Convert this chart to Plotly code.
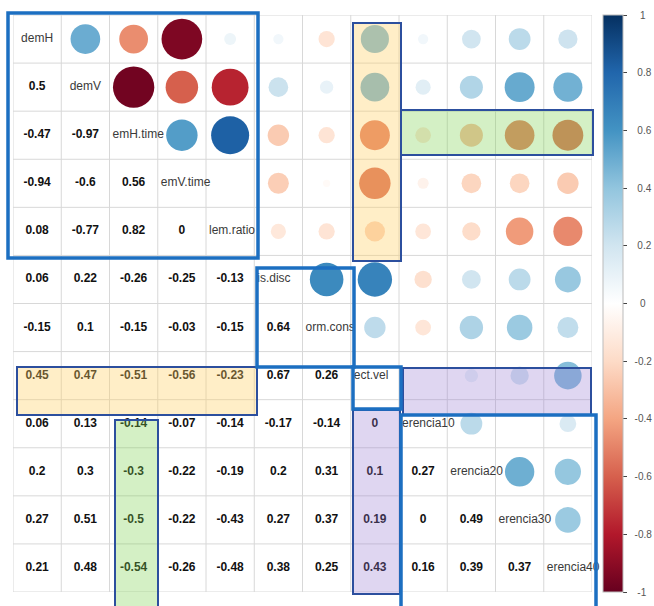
import math
import plotly.graph_objects as go

# ---------------- data ----------------
diag_labels = ["demH", "demV", "emH.time", "emV.time", "lem.ratio", "is.disc",
               "orm.cons", "ect.vel", "erencia10", "erencia20", "erencia30", "erencia40"]

lower_rows = [
    [],
    [0.5],
    [-0.47, -0.97],
    [-0.94, -0.6, 0.56],
    [0.08, -0.77, 0.82, 0],
    [0.06, 0.22, -0.26, -0.25, -0.13],
    [-0.15, 0.1, -0.15, -0.03, -0.15, 0.64],
    [0.45, 0.47, -0.51, -0.56, -0.23, 0.67, 0.26],
    [0.06, 0.13, -0.14, -0.07, -0.14, -0.17, -0.14, 0],
    [0.2, 0.3, -0.3, -0.22, -0.19, 0.2, 0.31, 0.1, 0.27],
    [0.27, 0.51, -0.5, -0.22, -0.43, 0.27, 0.37, 0.19, 0, 0.49],
    [0.21, 0.48, -0.54, -0.26, -0.48, 0.38, 0.25, 0.43, 0.16, 0.39, 0.37],
]

cbar_ticks = [1, 0.8, 0.6, 0.4, 0.2, 0, -0.2, -0.4, -0.6, -0.8, -1]
cbar_ticktext = ["1", "0.8", "0.6", "0.4", "0.2", "0", "-0.2", "-0.4", "-0.6", "-0.8", "-1"]

rdbu = ["#67001F", "#B2182B", "#D6604D", "#F4A582", "#FDDBC7", "#FFFFFF",
        "#D1E5F0", "#92C5DE", "#4393C3", "#2166AC", "#053061"]

# ---------------- layout geometry ----------------
W, H = 654, 606
L, R, T, B = 13, 62, 15, 14
PW, PH = W - L - R, H - T - B
n = len(diag_labels)

# full symmetric matrix
M = [[1.0] * n for _ in range(n)]
for i, row in enumerate(lower_rows):
    for j, v in enumerate(row):
        M[i][j] = v
        M[j][i] = v

colorscale = [[k / (len(rdbu) - 1), c] for k, c in enumerate(rdbu)]
cell_px = PW / n

# centre the colour-bar labels roughly like R does (pad with no-break spaces)
pad_by_len = {1: 4, 2: 3, 3: 3, 4: 2}
cbar_labels = ["\u00a0" * pad_by_len[len(t)] + t for t in cbar_ticktext]

fig = go.Figure()

# numbers (lower triangle)
nx, ny, nt = [], [], []
for i in range(n):
    for j in range(i):
        nx.append(j + 1)
        ny.append(i + 1)
        nt.append(f"{M[i][j]:g}")
fig.add_trace(go.Scatter(
    x=nx, y=ny, text=nt, mode="text", hoverinfo="skip", showlegend=False,
    textfont=dict(family="Liberation Sans", size=12, color="#111111", weight="bold"),
))

# circles (upper triangle)
cx, cy, cc, cs = [], [], [], []
for i in range(n):
    for j in range(i + 1, n):
        v = M[i][j]
        cx.append(j + 1)
        cy.append(i + 1)
        cc.append(v)
        cs.append(0.87 * math.sqrt(abs(v)) * cell_px)
fig.add_trace(go.Scatter(
    x=cx, y=cy, mode="markers", hoverinfo="skip", showlegend=False,
    marker=dict(
        color=cc, colorscale=colorscale, cmin=-1, cmax=1, size=cs,
        line=dict(width=0), opacity=1,
        colorbar=dict(
            xref="paper", x=(603 - L) / PW, xanchor="left", xpad=0,
            yref="paper", y=0, yanchor="bottom", ypad=0,
            lenmode="fraction", len=1, thickness=20,
            outlinecolor="#BBBBBB", outlinewidth=1,
            tickvals=cbar_ticks, ticktext=cbar_labels,
            ticks="outside", ticklen=4, tickcolor="#444444",
            tickfont=dict(family="Liberation Sans", size=10, color="#555555"),
        ),
    ),
))

# diagonal labels
lx, ly, lpos = [], [], []
for k, lab in enumerate(diag_labels):
    if len(lab) <= 4:
        lx.append(k + 1)
        lpos.append("middle center")
    else:
        lx.append(k + 0.5 + 3 / cell_px)
        lpos.append("middle right")
    ly.append(k + 1)
fig.add_trace(go.Scatter(
    x=lx, y=ly, text=diag_labels, mode="text", textposition=lpos,
    hoverinfo="skip", showlegend=False, cliponaxis=False,
    textfont=dict(family="Liberation Sans", size=12, color="#3a3a3a"),
))

# grid
for k in range(n + 1):
    fig.add_shape(type="line", xref="x", yref="y", x0=k + 0.5, x1=k + 0.5,
                  y0=0.5, y1=n + 0.5, line=dict(color="#D8D8D8", width=1), layer="below")
    fig.add_shape(type="line", xref="x", yref="y", y0=k + 0.5, y1=k + 0.5,
                  x0=0.5, x1=n + 0.5, line=dict(color="#D8D8D8", width=1), layer="below")


def px_rect(x0, y0, x1, y1):
    return dict(xref="paper", yref="paper",
                x0=(x0 - L) / PW, x1=(x1 - L) / PW,
                y0=(H - B - y0) / PH, y1=(H - B - y1) / PH)


yellow = "rgba(255,208,100,0.36)"
green = "rgba(125,210,80,0.33)"
purple = "rgba(150,120,210,0.30)"
navy = "#2C4F9E"
blue = "#1C6FC1"

filled = [
    ((353, 23, 401, 261), yellow),
    ((401, 110, 593, 155), green),
    ((17, 367, 257, 415), yellow),
    ((115, 420, 158, 614), green),
    ((403, 368, 591, 415), purple),
    ((353, 410, 400, 594), purple),
]
for (x0, y0, x1, y1), col in filled:
    fig.add_shape(type="rect", **px_rect(x0, y0, x1, y1), fillcolor=col,
                  line=dict(color=navy, width=2), layer="above")

thick = [
    (8, 13, 258, 258),
    (257, 268, 354, 367),
    (353, 367, 401, 409),
    (401, 415, 596, 614),
]
for x0, y0, x1, y1 in thick:
    fig.add_shape(type="rect", **px_rect(x0, y0, x1, y1),
                  line=dict(color=blue, width=3.5), layer="above")

fig.update_layout(
    width=W, height=H,
    margin=dict(l=L, r=R, t=T, b=B, pad=0, autoexpand=False),
    paper_bgcolor="white", plot_bgcolor="white",
    xaxis=dict(range=[0.5, n + 0.5], visible=False, fixedrange=True),
    yaxis=dict(range=[n + 0.5, 0.5], visible=False, fixedrange=True),
    showlegend=False,
)

fig.write_html(
    "out.html",
    config={"displayModeBar": False},
    post_script="document.body.style.margin='0px';document.body.style.overflow='hidden';",
)
